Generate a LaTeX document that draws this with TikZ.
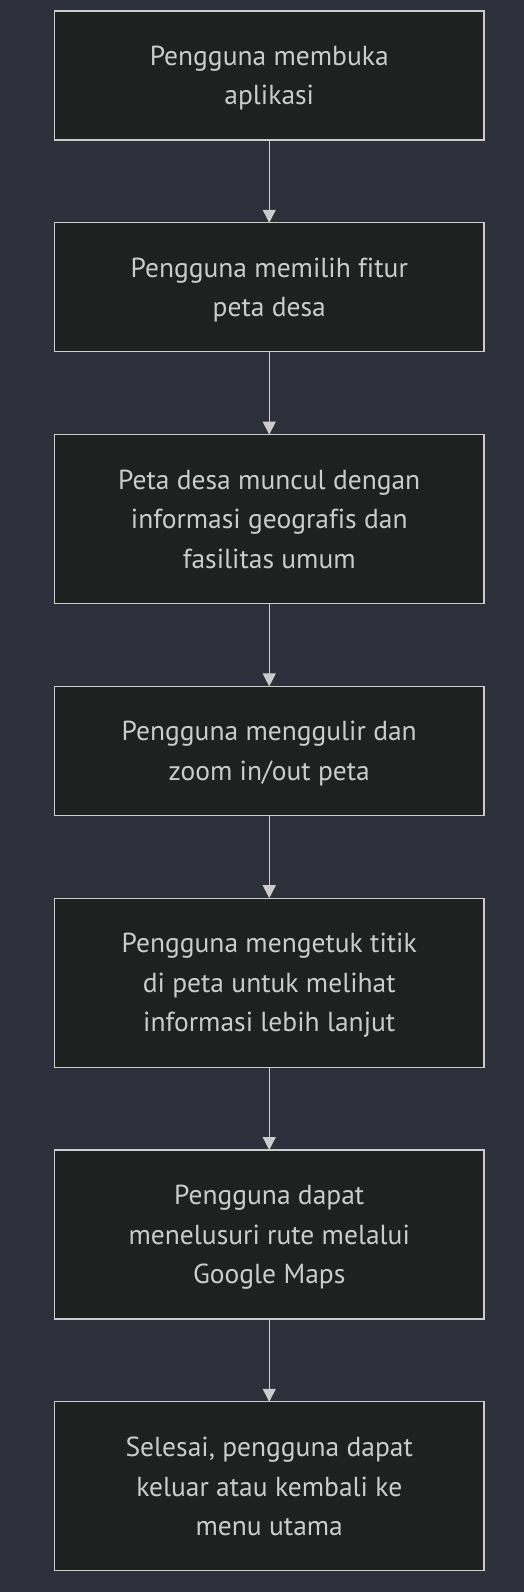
\documentclass[tikz,border=0pt]{standalone}
\usepackage{fontspec}
\setmainfont{PT Sans}[Ligatures=NoCommon]
\usepackage{xcolor}
\usetikzlibrary{positioning, arrows.meta}
\definecolor{bgcol}{HTML}{2D303B}
\definecolor{boxfill}{HTML}{1F2020}
\definecolor{linecol}{HTML}{CCCCCC}

\begin{document}
\begin{tikzpicture}[
    every node/.style={rectangle, draw=linecol, fill=boxfill, text=linecol, line width=1.2pt, outer sep=0pt, minimum width=429.5pt, minimum height=129pt, align=center, text depth=0pt, font=\fontsize{27.5}{39.5}\selectfont},
    tall/.style={minimum height=169pt},
    arrow/.style={-{Triangle[length=13pt, width=13pt]}, draw=linecol, line width=1.2pt},
    node distance=82.8pt
]
\fill [bgcol] (0,0) rectangle (524pt,-1592pt);
\useasboundingbox (0,0) rectangle (524pt,-1592pt);
\node (BUKAAPP) at (269.25pt,-75.5pt) {Pengguna membuka\\aplikasi};
\node (PILIHFITUR) [below=of BUKAAPP] {Pengguna memilih fitur\\peta desa};
\node (PETAMUNCUL) [tall, below=of PILIHFITUR] {Peta desa muncul dengan\\informasi geografis dan\\fasilitas umum};
\node (ZOOMPETA) [below=of PETAMUNCUL] {Pengguna menggulir dan\\zoom in/out peta};
\node (KETUKTITIK) [tall, below=of ZOOMPETA] {Pengguna mengetuk titik\\di peta untuk melihat\\informasi lebih lanjut};
\node (RUTEMAPS) [tall, below=of KETUKTITIK] {Pengguna dapat\\menelusuri rute melalui\\Google Maps};
\node (SELESAI) [tall, below=of RUTEMAPS] {Selesai, pengguna dapat\\keluar atau kembali ke\\menu utama};
\draw [arrow] (BUKAAPP) -- (PILIHFITUR);
\draw [arrow] (PILIHFITUR) -- (PETAMUNCUL);
\draw [arrow] (PETAMUNCUL) -- (ZOOMPETA);
\draw [arrow] (ZOOMPETA) -- (KETUKTITIK);
\draw [arrow] (KETUKTITIK) -- (RUTEMAPS);
\draw [arrow] (RUTEMAPS) -- (SELESAI);

\end{tikzpicture}
\end{document}
